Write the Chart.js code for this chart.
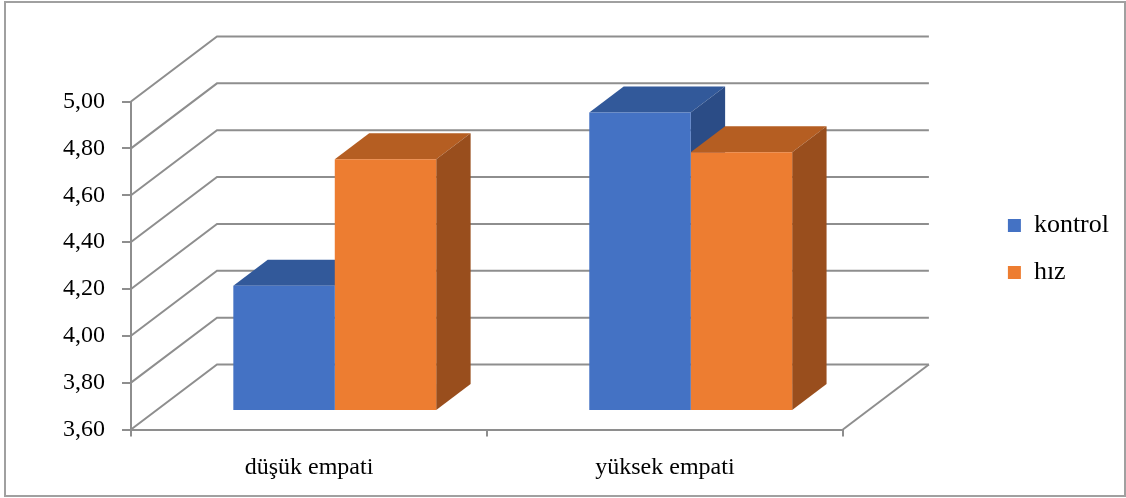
<!DOCTYPE html>
<html>
<head>
<meta charset="utf-8">
<script src="https://cdn.jsdelivr.net/npm/chart.js@4/dist/chart.umd.min.js"></script>
<style>
  html, body { margin: 0; padding: 0; background: #fff; }
  #wrap { width: 1126px; height: 498px; }
</style>
</head>
<body>
<div id="wrap"><canvas id="chart" width="1126" height="498"></canvas></div>
<script>
// data
const categories  = ['düşük empati', 'yüksek empati'];
const kontrol     = [4.13, 4.87];
const hiz         = [4.67, 4.70];
const yTickLabels = ['3,60', '3,80', '4,00', '4,20', '4,40', '4,60', '4,80', '5,00'];

const serif = "'Liberation Serif', 'Times New Roman', serif";
const gridGray = '#8e8e8e';

// oblique projection of the 3D box: wall depth, bar front depth and bar depth
const proj = { dx: 86, dy: -65, barFront: 0.3, barDepth: 0.4 };

function poly(ctx, pts) {
  ctx.beginPath();
  ctx.moveTo(pts[0][0], pts[0][1]);
  for (let i = 1; i < pts.length; i++) ctx.lineTo(pts[i][0], pts[i][1]);
  ctx.closePath();
  ctx.fill();
}

const threeD = {
  id: 'threeD',
  beforeDatasetsDraw(chart) {
    const { ctx, scales: { x, y } } = chart;
    const { dx, dy, barFront, barDepth } = proj;

    // left wall diagonals + back wall gridlines
    ctx.save();
    ctx.strokeStyle = gridGray;
    ctx.lineWidth = 2;
    y.ticks.forEach(t => {
      const py = y.getPixelForValue(t.value);
      ctx.beginPath();
      ctx.moveTo(x.left, py);
      ctx.lineTo(x.left + dx, py + dy);
      ctx.lineTo(x.right + dx, py + dy);
      ctx.stroke();
    });
    // floor right edge
    ctx.beginPath();
    ctx.moveTo(x.right, y.bottom);
    ctx.lineTo(x.right + dx, y.bottom + dy);
    ctx.stroke();

    // bar tops and right sides
    const ox = dx * barFront, oy = dy * barFront;
    const bx = dx * barDepth, by = dy * barDepth;
    const floor = y.getPixelForValue(y.min);
    chart.data.datasets.forEach((ds, i) => {
      chart.getDatasetMeta(i).data.forEach(bar => {
        const p = bar.getProps(['x', 'y', 'base', 'width'], true);
        const l = p.x - p.width / 2 + ox, r = p.x + p.width / 2 + ox;
        const t = p.y + oy, b = Math.min(p.base, floor) + oy;
        ctx.fillStyle = ds.topColor;
        poly(ctx, [[l, t], [r, t], [r + bx, t + by], [l + bx, t + by]]);
        ctx.fillStyle = ds.sideColor;
        poly(ctx, [[r, t], [r + bx, t + by], [r + bx, b + by], [r, b]]);
      });
    });
    ctx.restore();

    // front faces are drawn by Chart.js, pushed back to the bar depth
    ctx.save();
    ctx.translate(ox, oy);
  },
  afterDatasetsDraw(chart) {
    chart.ctx.restore();
  },
  afterDraw(chart) {
    const ctx = chart.ctx;
    ctx.save();
    ctx.strokeStyle = '#a0a0a0';
    ctx.lineWidth = 2;
    ctx.strokeRect(5, 2, 1120, 494);
    ctx.restore();
  }
};

new Chart(document.getElementById('chart'), {
  type: 'bar',
  data: {
    labels: categories,
    datasets: [
      { label: 'kontrol', data: kontrol, backgroundColor: '#4472C4', borderWidth: 0,
        topColor: '#32599A', sideColor: '#2B4C86' },
      { label: 'hız', data: hiz, backgroundColor: '#ED7D31', borderWidth: 0,
        topColor: '#B55E22', sideColor: '#994E1D' }
    ]
  },
  options: {
    responsive: false,
    animation: false,
    events: [],
    layout: { padding: { top: 0, left: 0, bottom: 0, right: 7 } },
    datasets: { bar: { categoryPercentage: 0.57, barPercentage: 1 } },
    plugins: {
      title: { display: true, text: ' ', font: { size: 10, lineHeight: 1 }, padding: { top: 91.5, bottom: 0 } },
      legend: {
        position: 'right',
        labels: {
          boxWidth: 13, boxHeight: 13, padding: 21, color: '#000',
          font: { family: serif, size: 26 }
        }
      },
      tooltip: { enabled: false }
    },
    scales: {
      x: {
        afterFit: s => { s.height = 68.5; },
        grid: { drawOnChartArea: false, tickLength: 7, color: gridGray, lineWidth: 2, offset: true },
        border: { color: gridGray, width: 2 },
        ticks: { color: '#000', font: { family: serif, size: 24 }, padding: 17, maxRotation: 0 }
      },
      y: {
        position: 'left',
        min: 3.6, max: 5.0,
        afterFit: s => { s.width = 131; },
        grid: { drawOnChartArea: false, tickLength: 9, color: gridGray, lineWidth: 2 },
        border: { color: gridGray, width: 2 },
        ticks: {
          stepSize: 0.2, color: '#000', padding: 17,
          font: { family: serif, size: 24 },
          callback: (v, i) => yTickLabels[i]
        }
      },
      y2: {
        type: 'linear',
        position: 'right',
        afterFit: s => { s.width = 144; },
        grid: { display: false },
        border: { display: false },
        ticks: { display: false }
      }
    }
  },
  plugins: [threeD]
});
</script>
</body>
</html>
